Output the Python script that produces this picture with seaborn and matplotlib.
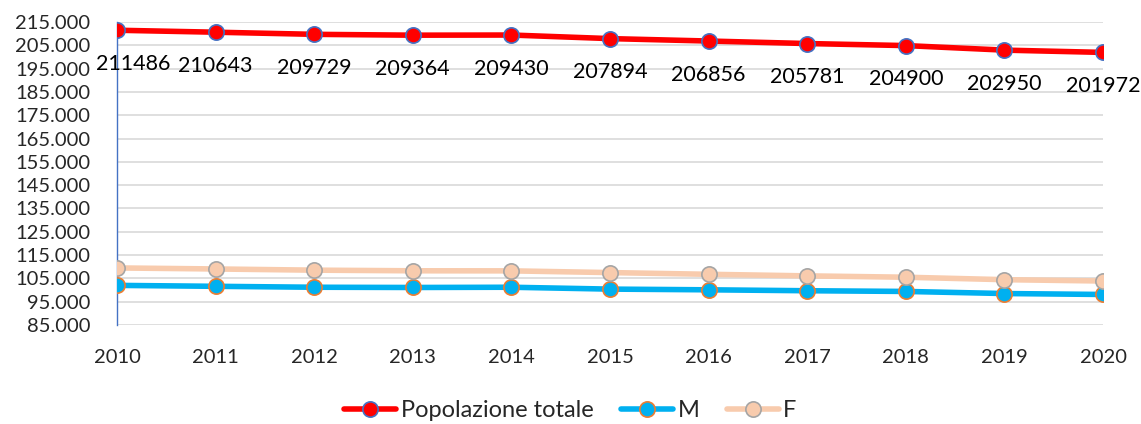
import matplotlib
matplotlib.use("Agg")
import matplotlib.pyplot as plt
import seaborn as sns
import pandas as pd
from matplotlib.ticker import FuncFormatter
from matplotlib.lines import Line2D

years = [2010, 2011, 2012, 2013, 2014, 2015, 2016, 2017, 2018, 2019, 2020]
totale = [211486, 210643, 209729, 209364, 209430, 207894, 206856, 205781, 204900, 202950, 201972]
maschi = [102000, 101600, 101200, 101100, 101200, 100400, 100100, 99700, 99400, 98500, 98100]
femmine = [109486, 109043, 108529, 108264, 108230, 107494, 106756, 106081, 105500, 104450, 103872]
series_names = ["Popolazione totale", "M", "F"]
y_ticks = list(range(85000, 215001, 10000))

sns.set_theme(style="white")
plt.rcParams['font.family'] = ['Lato', 'DejaVu Sans']

fig = plt.figure(figsize=(11.41, 4.24), dpi=100)
ax = fig.add_axes([0.1025, 0.2335, 0.8642, 0.7145])

styles = [
    (totale, "#FF0000", "#4472C4"),
    (maschi, "#00B0F0", "#ED7D31"),
    (femmine, "#F8CBAD", "#A5A5A5"),
]
handles = []
for name, (vals, col, edge) in zip(series_names, styles):
    df = pd.DataFrame({"anno": years, "valore": vals})
    sns.lineplot(data=df, x="anno", y="valore", ax=ax, color=col, linewidth=4,
                 marker="o", markersize=11, markerfacecolor=col,
                 markeredgecolor=edge, markeredgewidth=1.2, zorder=3)
    handles.append(Line2D([0], [0], color=col, linewidth=4, marker="o", markersize=11,
                          markerfacecolor=col, markeredgecolor=edge, markeredgewidth=1.2))

for i, (x, v) in enumerate(zip(years, totale)):
    dx = 12 if i == 0 else 0
    ax.annotate(f"{v}", (x, v), xytext=(dx, -17), textcoords="offset points",
                ha="center", va="top", fontsize=15.5, color="black")

ax.set_xlim(2010, 2020)
ax.set_ylim(85000, 215000)
ax.set_yticks(y_ticks)
ax.yaxis.set_major_formatter(FuncFormatter(lambda v, p: f"{int(v):,}".replace(",", ".")))
ax.set_xticks(years)
ax.set_xticklabels([str(y) for y in years])
ax.tick_params(axis="x", labelsize=14.5, pad=17, length=0)
ax.tick_params(axis="y", labelsize=14.5, pad=19, length=0)
ax.grid(axis="y", color="#D9D9D9", linewidth=1.2)
ax.grid(axis="x", visible=False)
ax.set_axisbelow(True)
for s in ["top", "right", "bottom"]:
    ax.spines[s].set_visible(False)
ax.spines["left"].set_color("#4472C4")
ax.spines["left"].set_linewidth(1)
ax.set_xlabel("")
ax.set_ylabel("")

fig.legend(handles, series_names, loc="center", bbox_to_anchor=(0.5, 0.032), ncol=3,
           frameon=False, fontsize=17, handlelength=2.2, columnspacing=1.15, handletextpad=0.2)

fig.savefig("out.png", dpi=100)
